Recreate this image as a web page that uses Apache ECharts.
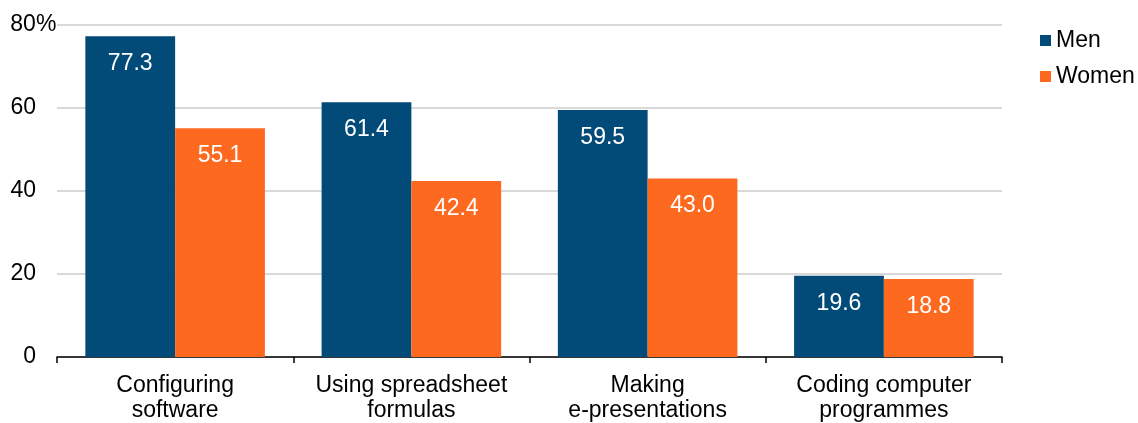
<!DOCTYPE html>
<html>
<head>
    <meta charset="utf-8">
    <title>skills</title>
    <script src="https://cdn.jsdelivr.net/npm/echarts@6/dist/echarts.min.js"></script>
    <style>body{margin:0;background:#fff;}</style>
</head>
<body>
    <div id="main" style="width: 1138px;height:423px;"></div>
    <script type="text/javascript">
        var categories = ['Configuring\nsoftware', 'Using spreadsheet\nformulas', 'Making\ne-presentations', 'Coding computer\nprogrammes'];
        var men = [77.3, 61.4, 59.5, 19.6];
        var women = [55.1, 42.4, 43.0, 18.8];

        var myChart = echarts.init(document.getElementById('main'));
        var font = 'Liberation Sans, Arial';
        var labelOpt = {
            show: true,
            position: 'insideTop',
            distance: 16,
            color: '#fff',
            fontSize: 23,
            fontFamily: font,
            formatter: function (p) { return p.value.toFixed(1); }
        };
        var option = {
            animation: false,
            textStyle: {fontFamily: font},
            grid: {left: 57, right: 136, top: 25, bottom: 66},
            legend: {
                orient: 'vertical',
                left: 1035,
                top: 24,
                icon: 'rect',
                itemWidth: 11,
                itemHeight: 11,
                itemGap: 13,
                textStyle: {fontSize: 23, color: '#000', fontFamily: font},
                data: ['Men', 'Women']
            },
            xAxis: {
                type: 'category',
                data: categories,
                axisLine: {lineStyle: {color: '#000', width: 1.5}},
                axisTick: {show: true, interval: 0, length: 6, lineStyle: {color: '#000', width: 1.5}},
                axisLabel: {
                    interval: 0, color: '#000', fontSize: 23, lineHeight: 25, margin: 16,
                    fontFamily: font
                }
            },
            yAxis: {
                type: 'value',
                min: 0,
                max: 80,
                interval: 20,
                axisLine: {show: false},
                axisTick: {show: false},
                splitLine: {lineStyle: {color: '#d9d9d9', width: 2}},
                axisLabel: {
                    color: '#000', fontSize: 23, margin: 47, align: 'left',
                    fontFamily: font,
                    formatter: function (v) { return '{n|' + v + '}' + (v === 80 ? '{p|%}' : ''); },
                    rich: {
                        n: {width: 26, align: 'right', fontSize: 23, color: '#000', fontFamily: font},
                        p: {fontSize: 23, color: '#000', fontFamily: font}
                    }
                }
            },
            series: [
                {name: 'Men', type: 'bar', data: men, itemStyle: {color: '#024a77'},
                 barGap: '0%', barCategoryGap: '24%', label: labelOpt},
                {name: 'Women', type: 'bar', data: women, itemStyle: {color: '#fd691e'},
                 label: labelOpt}
            ]
        };
        myChart.setOption(option);
    </script>
</body>
</html>
